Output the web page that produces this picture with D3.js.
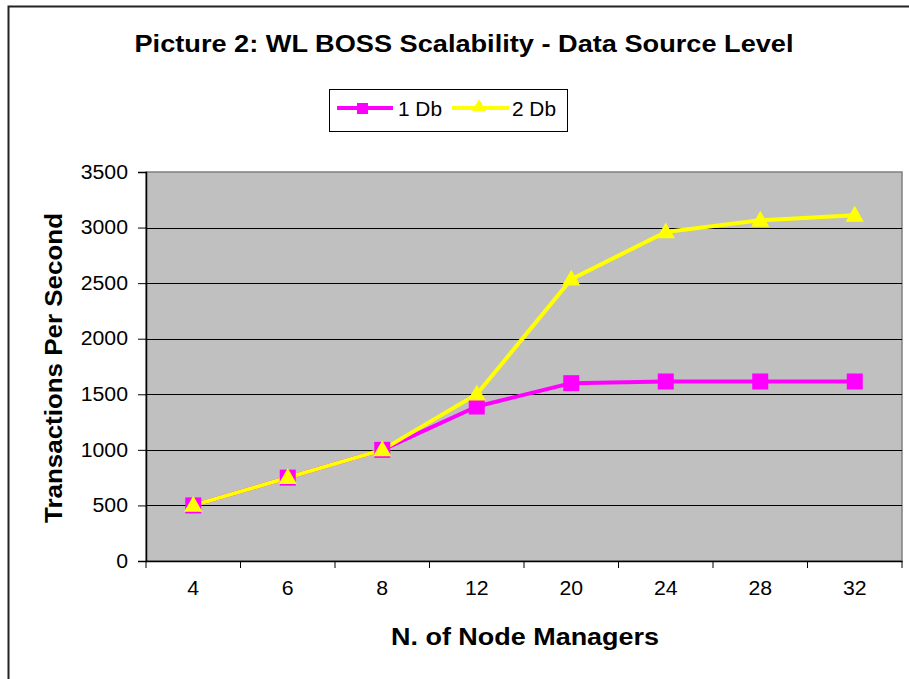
<!DOCTYPE html>
<html><head><meta charset="utf-8">
<script src="https://cdn.jsdelivr.net/npm/d3@7/dist/d3.min.js"></script>
<style>body{margin:0;background:#fff}svg{display:block;font-family:Arial,"Liberation Sans",sans-serif}</style>
</head><body><svg id="c" width="909" height="679"></svg>
<script>
const categories = ["4","6","8","12","20","24","28","32"];
const series1Db = [500, 750, 1000, 1390, 1600, 1615, 1615, 1615];
const series2Db = [500, 750, 1000, 1500, 2535, 2960, 3065, 3110];
const yTicks = [0, 500, 1000, 1500, 2000, 2500, 3000, 3500];
const seriesNames = ["1 Db", "2 Db"];

const svg = d3.select("#c");
const L = 146, R = 902, T = 172, B = 561;
const FF = "Arial, 'Liberation Sans', sans-serif";
function stretch(sel, k){ sel.each(function(){ const w=this.getComputedTextLength(); this.setAttribute("textLength", w*k); this.setAttribute("lengthAdjust","spacingAndGlyphs"); }); }

svg.append("path").attr("d", "M8.5,679 V6.5 H909").attr("fill","none").attr("stroke","#222").attr("stroke-width",2);

svg.append("text").attr("x",464).attr("y",52).attr("text-anchor","middle")
  .attr("font-size",23).attr("font-weight","bold").attr("textLength",659).attr("lengthAdjust","spacingAndGlyphs")
  .text("Picture 2: WL BOSS Scalability - Data Source Level");

const x = d3.scaleBand().domain(categories).range([L,R]);
const y = d3.scaleLinear().domain([0,3500]).range([B,T]);

svg.append("rect").attr("x",L).attr("y",T).attr("width",R-L).attr("height",B-T).attr("fill","#C0C0C0").attr("stroke","#808080").attr("stroke-width",1.5);
svg.append("g").selectAll("line").data(yTicks.filter(d=>d>0 && d<3500)).join("line")
  .attr("x1",L).attr("x2",R).attr("y1",d=>Math.round(y(d))+0.5).attr("y2",d=>Math.round(y(d))+0.5).attr("stroke","#000").attr("stroke-width",1);

const yAxis = svg.append("g").attr("transform",`translate(${L},0)`)
  .call(d3.axisLeft(y).tickValues(yTicks).tickSize(8).tickPadding(10).tickFormat(d3.format("d")));
yAxis.select(".domain").attr("stroke","#000").attr("stroke-width",1.5);
yAxis.selectAll("line").attr("stroke","#000");
yAxis.selectAll("text").attr("font-size",19.5).attr("fill","#000").attr("font-family",FF);
stretch(yAxis.selectAll("text"), 1.09);

const xAxis = svg.append("g").attr("transform",`translate(0,${B})`)
  .call(d3.axisBottom(x).tickSize(0).tickPadding(20));
xAxis.select(".domain").attr("stroke","#000").attr("stroke-width",1.5);
xAxis.selectAll("text").attr("font-size",19.5).attr("fill","#000").attr("font-family",FF);
stretch(xAxis.selectAll("text"), 1.09);
const bounds = categories.map(c=>x(c)).concat([R]);
svg.append("g").selectAll("line").data(bounds).join("line")
  .attr("x1",d=>d).attr("x2",d=>d).attr("y1",B).attr("y2",B+7).attr("stroke","#000").attr("stroke-width",1);

svg.append("text").attr("transform","translate(62,368) rotate(-90)").attr("text-anchor","middle")
  .attr("font-size",23).attr("font-weight","bold").attr("textLength",310).attr("lengthAdjust","spacingAndGlyphs")
  .text("Transactions Per Second");
svg.append("text").attr("x",525).attr("y",645).attr("text-anchor","middle")
  .attr("font-size",23).attr("font-weight","bold").attr("textLength",268).attr("lengthAdjust","spacingAndGlyphs")
  .text("N. of Node Managers");

const cx = c => x(c) + x.bandwidth()/2;
const line = d3.line().x((d,i)=>cx(categories[i])).y(d=>y(d));
const colors = ["#FF00FF","#FFFF00"];
const tri = d3.symbol().type(d3.symbolTriangle).size(145);

[series1Db, series2Db].forEach((s,k)=>{
  svg.append("path").attr("d",line(s)).attr("fill","none").attr("stroke",colors[k]).attr("stroke-width",4).attr("stroke-linejoin","round");
});
svg.append("g").selectAll("rect").data(series1Db).join("rect")
  .attr("x",(d,i)=>cx(categories[i])-8).attr("y",d=>y(d)-8).attr("width",16).attr("height",16).attr("fill",colors[0]);
svg.append("g").selectAll("path").data(series2Db).join("path")
  .attr("d",tri).attr("transform",(d,i)=>`translate(${cx(categories[i])},${y(d)+1})`).attr("fill",colors[1]);

const lg = svg.append("g");
lg.append("rect").attr("x",329.5).attr("y",89.5).attr("width",238).attr("height",42).attr("fill","#fff").attr("stroke","#000").attr("stroke-width",1);
lg.append("line").attr("x1",337).attr("x2",393).attr("y1",108).attr("y2",108).attr("stroke",colors[0]).attr("stroke-width",4);
lg.append("rect").attr("x",357).attr("y",103).attr("width",11).attr("height",11).attr("fill",colors[0]);
lg.append("text").attr("x",398).attr("y",116).attr("font-size",19.5).attr("textLength",44).attr("lengthAdjust","spacingAndGlyphs").text(seriesNames[0]);
lg.append("line").attr("x1",452).attr("x2",509).attr("y1",108).attr("y2",108).attr("stroke",colors[1]).attr("stroke-width",4);
lg.append("path").attr("d",d3.symbol().type(d3.symbolTriangle).size(85)).attr("transform","translate(479,107)").attr("fill",colors[1]);
lg.append("text").attr("x",512).attr("y",116).attr("font-size",19.5).attr("textLength",44).attr("lengthAdjust","spacingAndGlyphs").text(seriesNames[1]);
</script></body></html>
